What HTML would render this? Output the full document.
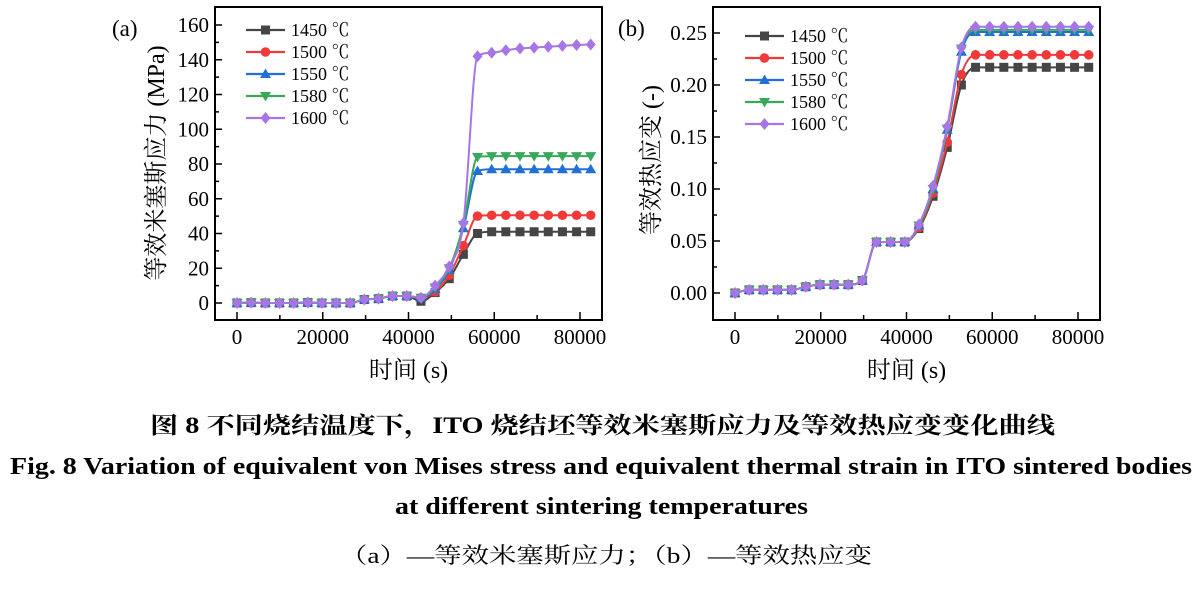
<!DOCTYPE html>
<html><head><meta charset="utf-8"><style>
html,body{margin:0;padding:0;background:#fff;width:1200px;height:590px;overflow:hidden}
text{font-family:"Liberation Serif","Noto Serif CJK SC",serif;fill:#000}
</style></head><body>
<svg id="s" width="1200" height="590" xmlns="http://www.w3.org/2000/svg">
<text x="150" y="433" font-size="23" font-weight="bold" textLength="905" lengthAdjust="spacingAndGlyphs" font-family="'Liberation Serif','Noto Serif CJK SC',serif">图 8  不同烧结温度下，ITO 烧结坯等效米塞斯应力及等效热应变变化曲线</text>
<text x="10" y="474" font-size="24" font-weight="bold" textLength="1182" lengthAdjust="spacingAndGlyphs">Fig. 8 Variation of equivalent von Mises stress and equivalent thermal strain in ITO sintered bodies</text>
<text x="395" y="514" font-size="24" font-weight="bold" textLength="413" lengthAdjust="spacingAndGlyphs">at different sintering temperatures</text>
<text x="340" y="563" font-size="22" textLength="532" lengthAdjust="spacingAndGlyphs">（a）—等效米塞斯应力；（b）—等效热应变</text>
</svg>
<script>
const S=document.getElementById('s');const NS='http://www.w3.org/2000/svg';
function el(t,a,txt){const e=document.createElementNS(NS,t);for(const k in a)e.setAttribute(k,a[k]);if(txt!=null)e.textContent=txt;S.appendChild(e);return e;}
const cols=['#454545','#f03a3a','#2070d8','#38a85a','#a676e6'];
const labels=['1450 ℃','1500 ℃','1550 ℃','1580 ℃','1600 ℃'];
const step=3300;
const bA=[0,0.2,0,0,0,0.3,0,0,0,2,2.5,4,4];
const A=[
 bA.concat([1,6,14,28,40,41,41,41,41,41,41,41,41]),
 bA.concat([3,6.5,16,33,50,50.5,50.5,50.5,50.5,50.5,50.5,50.5,50.5]),
 bA.concat([3,8,19,43,76,77,77,77,77,77,77,77,77]),
 bA.concat([3,9,20,45,84,84.5,84.5,84.5,84.5,84.5,84.5,84.5,84.5]),
 bA.concat([3,10,21,46,142,144,145.5,146.5,147,147.5,148,148.5,148.8])];
const bB=[0,.003,.003,.003,.003,.006,.008,.008,.008,.012,.049,.049,.049];
const B=[
 bB.concat([.062,.093,.14,.2,.217,.217,.217,.217,.217,.217,.217,.217,.217]),
 bB.concat([.063,.096,.145,.21,.229,.229,.229,.229,.229,.229,.229,.229,.229]),
 bB.concat([.065,.10,.157,.232,.251,.251,.251,.251,.251,.251,.251,.251,.251]),
 bB.concat([.065,.10,.158,.235,.253,.253,.253,.253,.253,.253,.253,.253,.253]),
 bB.concat([.066,.103,.16,.236,.256,.256,.256,.256,.256,.256,.256,.256,.256])];
function marker(k,x,y,c){
 if(k==0)el('rect',{x:x-4.5,y:y-4.5,width:9,height:9,fill:c});
 else if(k==1)el('circle',{cx:x,cy:y,r:4.8,fill:c});
 else if(k==2)el('polygon',{points:`${x},${y-5.5} ${x+5.5},${y+4} ${x-5.5},${y+4}`,fill:c});
 else if(k==3)el('polygon',{points:`${x},${y+5.5} ${x+5.5},${y-4} ${x-5.5},${y-4}`,fill:c});
 else el('polygon',{points:`${x},${y-6} ${x+5},${y} ${x},${y+6} ${x-5},${y}`,fill:c});
}
function path(p){const n=p.length,d=[],m=[];
 for(let i=0;i<n-1;i++)d.push((p[i+1][1]-p[i][1])/(p[i+1][0]-p[i][0]));
 m[0]=d[0];m[n-1]=d[n-2];
 for(let i=1;i<n-1;i++){m[i]=(d[i-1]*d[i]<=0)?0:(d[i-1]+d[i])/2;}
 for(let i=0;i<n-1;i++){if(d[i]==0){m[i]=0;m[i+1]=0;continue;}
  const a=m[i]/d[i],b=m[i+1]/d[i],s=a*a+b*b;if(s>9){const t=3/Math.sqrt(s);m[i]=t*a*d[i];m[i+1]=t*b*d[i];}}
 let s=`M${p[0][0]},${p[0][1]}`;
 for(let i=0;i<n-1;i++){const h=(p[i+1][0]-p[i][0])/3;
  s+=` C${p[i][0]+h},${p[i][1]+m[i]*h} ${p[i+1][0]-h},${p[i+1][1]-m[i+1]*h} ${p[i+1][0]},${p[i+1][1]}`;}
 return s;}
function plot(o){
 const X=v=>o.x0+v*(o.x80-o.x0)/80000, Y=v=>o.y0+(v-o.ymin)*(o.ytop-o.y0)/(o.ymax-o.ymin);
 o.data.forEach((s,k)=>{const pts=s.map((v,i)=>[X(i*step),Y(v)]);
  el('path',{d:path(pts),fill:'none',stroke:cols[k],'stroke-width':2});
  pts.forEach(p=>marker(k,p[0],p[1],cols[k]));});
 el('rect',{x:o.L,y:7,width:o.R-o.L,height:313,fill:'none',stroke:'#000','stroke-width':2});
 for(let v=0;v<=80000;v+=10000){const x=X(v);el('line',{x1:x,y1:320,x2:x,y2:v%20000?315:312,stroke:'#000','stroke-width':1.5});
  if(v%20000==0)el('text',{x:x,y:344,'font-size':21,'text-anchor':'middle'},String(v));}
 o.ticks.forEach((t)=>{const y=Y(t.v);el('line',{x1:o.L,y1:y,x2:o.L+(t.l?7:4),y2:y,stroke:'#000','stroke-width':1.5});
  if(t.l)el('text',{x:o.L-6,y:y+7,'font-size':21,'text-anchor':'end'},t.l);});
 el('text',{x:(o.L+o.R)/2,y:378,'font-size':24,'text-anchor':'middle'},'时间 (s)');
 el('text',{x:o.yl,y:o.yc,'font-size':24,'text-anchor':'middle',transform:`rotate(-90 ${o.yl} ${o.yc})`},o.ylab);
 el('text',{x:o.tx,y:36,'font-size':23},o.tag);
 labels.forEach((lb,k)=>{const y=o.legY+k*22;el('line',{x1:o.legX,y1:y,x2:o.legX+39,y2:y,stroke:cols[k],'stroke-width':2.2});
  marker(k,o.legX+19.5,y,cols[k]);el('text',{x:o.legX+45,y:y+6,'font-size':18},lb);});
}
const tA=[];for(let v=0;v<=160;v+=10)tA.push({v,l:v%20==0?String(v):''});
plot({L:215,R:602,x0:237,x80:580,y0:303,ytop:25,ymin:0,ymax:160,data:A,ticks:tA,yl:164,yc:163,ylab:'等效米塞斯应力 (MPa)',tag:'(a)',tx:112,legX:246,legY:30});
const tB=[];for(let i=0;i<=10;i++){const v=i*0.025;tB.push({v,l:i%2==0?v.toFixed(2):''});}
plot({L:713,R:1100,x0:735,x80:1078,y0:293,ytop:33,ymin:0,ymax:0.25,data:B,ticks:tB,yl:659,yc:160,ylab:'等效热应变 (-)',tag:'(b)',tx:618,legX:745,legY:36});
</script>
</body></html>
